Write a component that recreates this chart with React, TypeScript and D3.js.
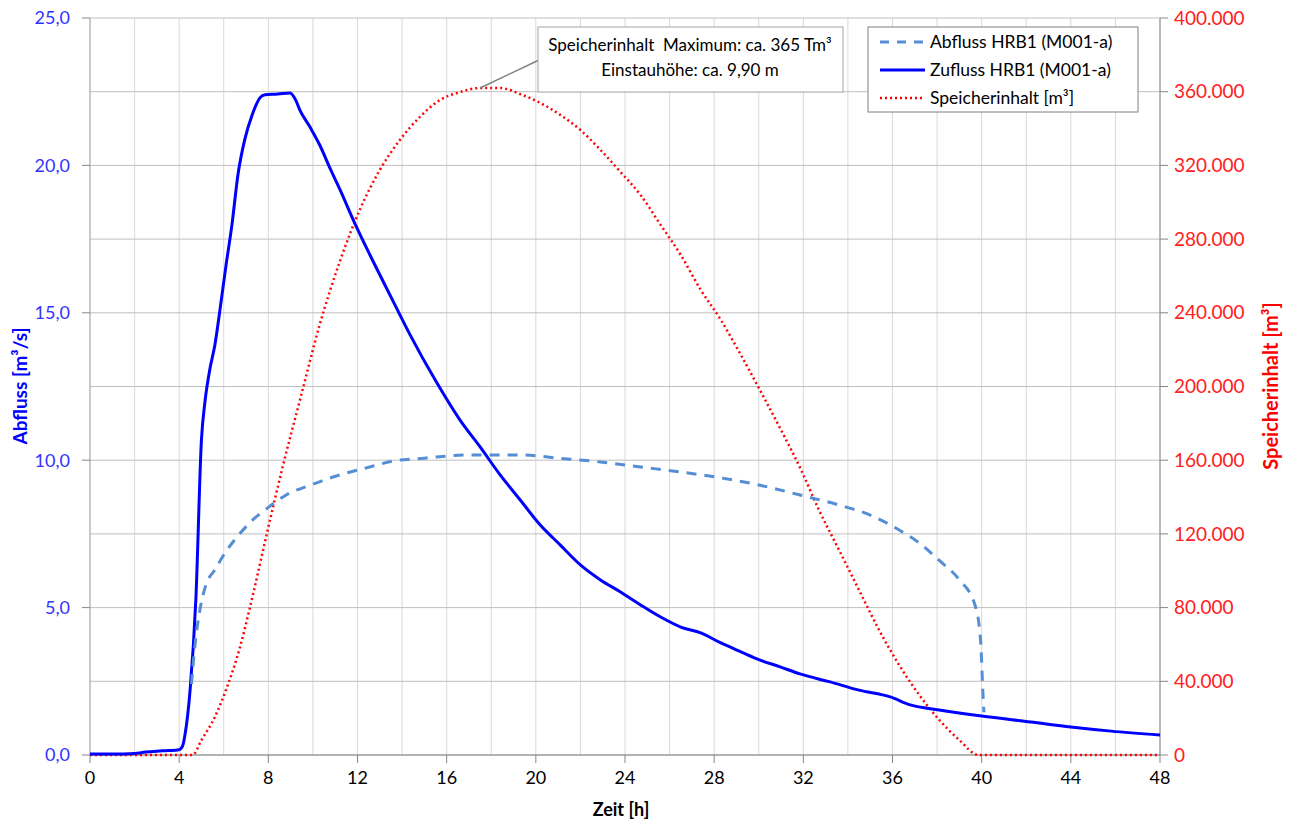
import React from "react";
import * as d3 from "d3";

// Zeit [h]
const zuflussT = [0, 1, 2, 2.5, 3, 3.5, 4, 4.15, 4.26, 4.49, 4.75, 5.0, 5.16, 5.38, 5.6, 5.83, 6.1, 6.37, 6.64, 6.95, 7.27, 7.63, 7.85, 8.43, 8.97, 9.24, 9.4, 9.87, 10.3, 10.77, 11.2, 11.9, 12.56, 13.46, 14.36, 15.5, 16.6, 17.5, 18.4, 19.3, 20.2, 21.1, 22, 22.9, 23.8, 24.7, 25.6, 26.5, 27.4, 28.3, 29.2, 30.06, 30.96, 31.85, 33.2, 34.5, 35.9, 36.8, 38.1, 40, 42.2, 44, 45.8, 48];
const zuflussV = [0.03, 0.03, 0.05, 0.1, 0.13, 0.15, 0.18, 0.3, 0.68, 2.2, 5.3, 10.7, 12.0, 13.1, 13.9, 15.1, 16.6, 18.0, 19.7, 20.9, 21.7, 22.3, 22.4, 22.42, 22.46, 22.2, 21.9, 21.3, 20.7, 19.9, 19.2, 18.0, 16.96, 15.6, 14.25, 12.7, 11.36, 10.45, 9.5, 8.65, 7.8, 7.12, 6.45, 5.94, 5.53, 5.09, 4.68, 4.34, 4.14, 3.8, 3.5, 3.22, 2.99, 2.75, 2.48, 2.2, 1.97, 1.7, 1.53, 1.32, 1.12, 0.95, 0.81, 0.68];

const abflussT = [4.55, 4.7, 4.95, 5.2, 5.6, 6.05, 6.6, 7.2, 8.0, 8.8, 9.9, 10.9, 12.4, 13.6, 15.0, 17.0, 19.3, 21.0, 22.9, 24.7, 26.5, 28.3, 30.0, 31.85, 33.6, 35.0, 36.3, 37.2, 38.1, 39.0, 39.7, 39.95, 40.05, 40.1];
const abflussV = [2.4, 3.66, 5.0, 5.77, 6.28, 6.85, 7.4, 7.9, 8.4, 8.82, 9.16, 9.43, 9.74, 9.97, 10.07, 10.18, 10.18, 10.07, 9.94, 9.77, 9.6, 9.4, 9.16, 8.82, 8.48, 8.14, 7.63, 7.19, 6.6, 5.94, 5.09, 3.9, 2.2, 1.45];

const speicherT = [0, 4.6, 5.0, 5.6, 6.1, 6.73, 7.18, 7.94, 8.64, 9.42, 10.3, 11.2, 12.1, 13.0, 13.9, 14.8, 15.7, 16.6, 17.5, 18.4, 19.3, 20.2, 21.1, 22.0, 22.9, 23.8, 24.7, 25.6, 26.5, 27.4, 28.3, 29.2, 30.1, 31.0, 31.9, 32.7, 33.6, 34.5, 35.4, 36.3, 37.2, 38.1, 39.0, 39.85, 48];
const speicherV = [0, 0, 8100, 20600, 35300, 58600, 80300, 120500, 156300, 192700, 233400, 267600, 295800, 317500, 333800, 346300, 355500, 359800, 362000, 362000, 358700, 353900, 347400, 339200, 328400, 316400, 303900, 287700, 271400, 252400, 236100, 217100, 197000, 176400, 154700, 133000, 111300, 89500, 67800, 48800, 32600, 19000, 8100, 0, 0];

const xTicks = [0, 4, 8, 12, 16, 20, 24, 28, 32, 36, 40, 44, 48];
const xGrid = d3.range(0, 49, 2);
const yLeftTicks = [0, 5, 10, 15, 20, 25];
const yGrid = d3.range(0, 25.01, 2.5);
const yRightTicks = d3.range(0, 400001, 40000);

const legendLabels = ["Abfluss HRB1 (M001-a)", "Zufluss HRB1 (M001-a)", "Speicherinhalt [m³]"];
const calloutLines = ["Speicherinhalt\u00A0 Maximum: ca. 365 Tm³", "Einstauhöhe: ca. 9,90 m"];

const FONT = "Lato, 'Open Sans', sans-serif";
const W = 1293, H = 825;
const L = 90, R = 1160, T = 18, B = 755;

export default function App() {
  const x = d3.scaleLinear().domain([0, 48]).range([L, R]);
  const yL = d3.scaleLinear().domain([0, 25]).range([B, T]);
  const yR = d3.scaleLinear().domain([0, 400000]).range([B, T]);
  const fmtL = (v: number) => v.toFixed(1).replace(".", ",");
  const fmtR = (v: number) => (v === 0 ? "0" : d3.format(",")(v).replace(/,/g, "."));

  const lineL = d3.line<[number, number]>().x(d => x(d[0])).y(d => yL(d[1])).curve(d3.curveMonotoneX);
  const lineR = d3.line<[number, number]>().x(d => x(d[0])).y(d => yR(d[1])).curve(d3.curveMonotoneX);
  const zPts = zuflussT.map((t, i) => [t, zuflussV[i]] as [number, number]);
  const aPts = abflussT.map((t, i) => [t, abflussV[i]] as [number, number]);
  const sPts = speicherT.map((t, i) => [t, speicherV[i]] as [number, number]);

  const maxIdx = d3.maxIndex(speicherV);
  const peakX = x(speicherT[maxIdx]);
  const peakY = yR(speicherV[maxIdx]);

  const legendStyles = [
    { stroke: "#558ED5", dash: "9 8", w: 3 },
    { stroke: "#0000FF", dash: "", w: 3 },
    { stroke: "#FF0000", dash: "2 3", w: 2.5 },
  ];

  return (
    <svg width={W} height={H} style={{ position: "absolute", left: 0, top: 0, background: "#fff" }} fontFamily={FONT}>
      <rect width={W} height={H} fill="#fff" />
      {xGrid.map(v => (
        <line key={"vg" + v} x1={x(v)} x2={x(v)} y1={T} y2={B} stroke="#D9D9D9" strokeWidth={1} />
      ))}
      {yGrid.map(v => (
        <line key={"hg" + v} x1={L} x2={R} y1={yL(v)} y2={yL(v)} stroke="#BFBFBF" strokeWidth={1} />
      ))}
      {/* axes */}
      <line x1={L} x2={L} y1={T} y2={B} stroke="#A6A6A6" />
      <line x1={R} x2={R} y1={T} y2={B} stroke="#868686" />
      <line x1={L} x2={R} y1={B} y2={B} stroke="#868686" />
      {yLeftTicks.map(v => (
        <g key={"yl" + v}>
          <line x1={L - 8} x2={L} y1={yL(v)} y2={yL(v)} stroke="#868686" />
          <text x={L - 20} y={yL(v)} dy="0.35em" textAnchor="end" fontSize={18} fill="#3333FF">{fmtL(v)}</text>
        </g>
      ))}
      {yRightTicks.map(v => (
        <g key={"yr" + v}>
          <line x1={R} x2={R + 8} y1={yR(v)} y2={yR(v)} stroke="#868686" />
          <text x={R + 14} y={yR(v)} dy="0.35em" textAnchor="start" fontSize={19} fill="#FF2020">{fmtR(v)}</text>
        </g>
      ))}
      {xTicks.map(v => (
        <g key={"xt" + v}>
          <line x1={x(v)} x2={x(v)} y1={B} y2={B + 8} stroke="#868686" />
          <text x={x(v)} y={B + 29} textAnchor="middle" fontSize={18} fill="#000">{v}</text>
        </g>
      ))}
      <text x={621} y={816} textAnchor="middle" fontSize={18} fontWeight="bold" fill="#000">Zeit [h]</text>
      <text transform={`translate(27,386) rotate(-90)`} textAnchor="middle" fontSize={19} fontWeight="bold" fill="#0000FF">Abfluss [m³/s]</text>
      <text transform={`translate(1278,386) rotate(-90)`} textAnchor="middle" fontSize={20} fontWeight="bold" fill="#FF0000">Speicherinhalt [m³]</text>

      {/* series */}
      <path d={lineR(sPts) || ""} fill="none" stroke="#FF0000" strokeWidth={2.5} strokeDasharray="2 3" />
      <path d={lineL(zPts) || ""} fill="none" stroke="#0000FF" strokeWidth={3} strokeLinejoin="round" />
      <path d={lineL(aPts) || ""} fill="none" stroke="#558ED5" strokeWidth={3} strokeDasharray="10 8" />

      {/* callout */}
      <line x1={peakX} y1={peakY} x2={539} y2={60} stroke="#808080" strokeWidth={1.5} />
      <rect x={538} y={27} width={305} height={65} fill="#fff" stroke="#A6A6A6" />
      <text x={690} y={51} textAnchor="middle" fontSize={17} fill="#000">{calloutLines[0]}</text>
      <text x={690} y={76} textAnchor="middle" fontSize={17} fill="#000">{calloutLines[1]}</text>

      {/* legend */}
      <rect x={868} y={27} width={270} height={85} fill="#fff" stroke="#808080" />
      {legendLabels.map((lab, i) => {
        const cy = 42 + i * 28;
        const s = legendStyles[i];
        return (
          <g key={lab}>
            <line x1={880} x2={925} y1={cy} y2={cy} stroke={s.stroke} strokeWidth={s.w} strokeDasharray={s.dash || undefined} />
            <text x={930} y={cy} dy="0.35em" fontSize={17.5} fill="#000">{lab}</text>
          </g>
        );
      })}
    </svg>
  );
}
